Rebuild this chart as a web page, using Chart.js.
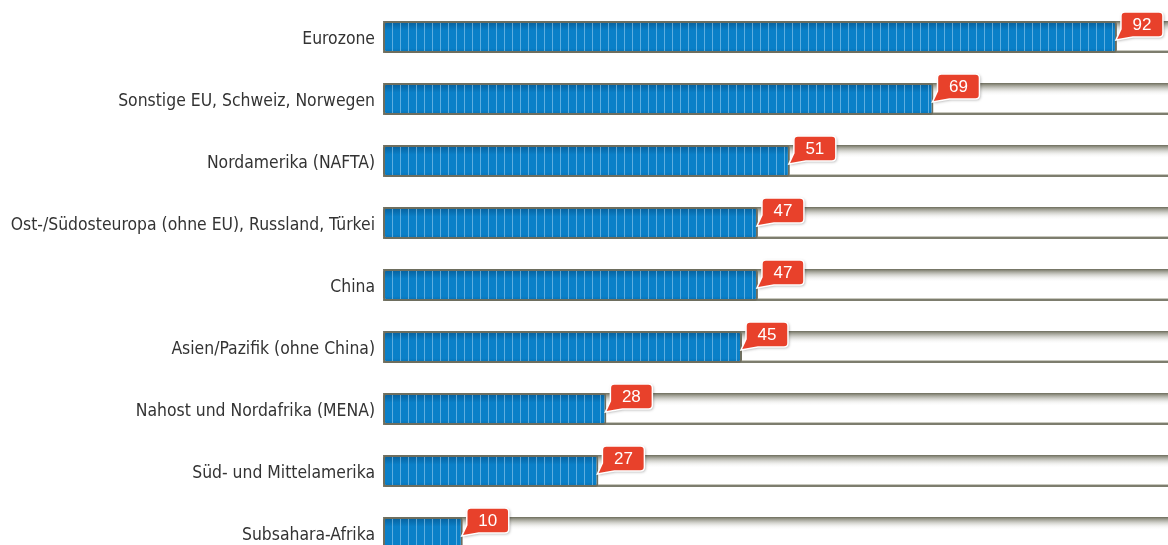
<!DOCTYPE html>
<html>
<head>
<meta charset="utf-8">
<script src="https://cdn.jsdelivr.net/npm/chart.js@4"></script>
<style>
  html, body { margin: 0; padding: 0; background: #fff; overflow: hidden; }
  #wrap { width: 1168px; height: 570px; position: relative; }
</style>
</head>
<body>
<div id="wrap"><canvas id="myChart"></canvas></div>
<script>
const categories = [
  'Eurozone',
  'Sonstige EU, Schweiz, Norwegen',
  'Nordamerika (NAFTA)',
  'Ost-/Südosteuropa (ohne EU), Russland, Türkei',
  'China',
  'Asien/Pazifik (ohne China)',
  'Nahost und Nordafrika (MENA)',
  'Süd- und Mittelamerika',
  'Subsahara-Afrika'
];
const values = [92, 69, 51, 47, 47, 45, 28, 27, 10];
const axisMax = 98.4;

// grey track behind each bar
const trackPlugin = {
  id: 'track',
  beforeDatasetsDraw(chart) {
    const ctx = chart.ctx;
    const area = chart.chartArea;
    ctx.save();
    chart.getDatasetMeta(0).data.forEach(bar => {
      const top = bar.y - bar.height / 2;
      const bottom = bar.y + bar.height / 2;
      const left = bar.base;
      const w = area.right - left + 10;
      const g = ctx.createLinearGradient(0, top, 0, top + 13);
      g.addColorStop(0, '#6c6c5c');
      g.addColorStop(0.12, '#8e8e80');
      g.addColorStop(1, 'rgba(255,255,255,0)');
      ctx.fillStyle = g;
      ctx.fillRect(left, top, w, 13);
      ctx.fillStyle = '#c9c9bf';
      ctx.fillRect(left, bottom - 3, w, 1);
      ctx.fillStyle = '#7d7d6e';
      ctx.fillRect(left, bottom - 2, w, 2);
    });
    ctx.restore();
  }
};

// stripes + shading on blue bars, then red value callouts
const decoPlugin = {
  id: 'deco',
  afterDatasetsDraw(chart) {
    const ctx = chart.ctx;
    ctx.save();
    chart.getDatasetMeta(0).data.forEach((bar, i) => {
      const top = bar.y - bar.height / 2;
      const bottom = bar.y + bar.height / 2;
      const l = bar.base + 2, r = bar.x - 2;
      ctx.save();
      ctx.beginPath();
      ctx.rect(l, top + 2, r - l, bottom - top - 4);
      ctx.clip();
      const g = ctx.createLinearGradient(0, top, 0, bottom);
      g.addColorStop(0, 'rgba(0,40,80,0.4)');
      g.addColorStop(0.3, 'rgba(0,40,80,0)');
      g.addColorStop(0.85, 'rgba(0,40,80,0)');
      g.addColorStop(1, 'rgba(0,40,80,0.2)');
      ctx.fillStyle = g;
      ctx.fillRect(l, top, r - l, bottom - top);
      ctx.fillStyle = 'rgba(150,205,240,0.6)';
      for (let x = l + 7; x < r; x += 8) {
        ctx.fillRect(Math.round(x), top + 2, 1, bottom - top - 4);
      }
      ctx.restore();

      // callout
      const txt = String(values[i]);
      ctx.font = '17px "Liberation Sans", Arial, sans-serif';
      const bw = Math.max(42, ctx.measureText(txt).width + 22);
      const bx = bar.x + 4, by = top - 9, bh = 25, rad = 4;
      const tipX = bar.x - 1, tipY = top + 19;
      ctx.beginPath();
      ctx.moveTo(bx + rad, by);
      ctx.lineTo(bx + bw - rad, by);
      ctx.quadraticCurveTo(bx + bw, by, bx + bw, by + rad);
      ctx.lineTo(bx + bw, by + bh - rad);
      ctx.quadraticCurveTo(bx + bw, by + bh, bx + bw - rad, by + bh);
      ctx.lineTo(bx + 12, by + bh);
      ctx.lineTo(tipX, tipY);
      ctx.lineTo(bx, by + bh - 8);
      ctx.lineTo(bx, by + rad);
      ctx.quadraticCurveTo(bx, by, bx + rad, by);
      ctx.closePath();
      ctx.shadowColor = 'rgba(0,0,0,0.35)';
      ctx.shadowBlur = 3;
      ctx.shadowOffsetX = 1;
      ctx.shadowOffsetY = 1;
      ctx.fillStyle = '#e8412b';
      ctx.fill();
      ctx.shadowColor = 'transparent';
      ctx.lineWidth = 1.5;
      ctx.strokeStyle = '#ffffff';
      ctx.stroke();
      ctx.fillStyle = '#ffffff';
      ctx.textAlign = 'center';
      ctx.textBaseline = 'middle';
      ctx.fillText(txt, bx + bw / 2, by + bh / 2 + 1);
    });
    ctx.restore();
  }
};

const ctx = document.getElementById('myChart').getContext('2d');
const myChart = new Chart(ctx, {
  type: 'bar',
  data: {
    labels: categories,
    datasets: [{
      data: values,
      backgroundColor: '#0a80c8',
      borderColor: '#6e6e5e',
      borderWidth: 2,
      borderRadius: 3,
      borderSkipped: false,
      barPercentage: 0.516,
      categoryPercentage: 1
    }]
  },
  options: {
    indexAxis: 'y',
    responsive: true,
    maintainAspectRatio: false,
    animation: false,
    layout: { padding: { top: 6, bottom: 6, left: 0, right: 0 } },
    plugins: { legend: { display: false }, tooltip: { enabled: false } },
    scales: {
      x: { min: 0, max: axisMax, display: false },
      y: {
        offset: true,
        grid: { display: false },
        border: { display: false },
        ticks: {
          color: '#333333',
          padding: 0,
          labelOffset: 2,
          font: { family: '"DejaVu Sans Condensed", sans-serif', size: 17.4 }
        },
        afterFit(scale) {
          scale.width = 383;
          scale.paddingTop = 0;
          scale.paddingBottom = 0;
        }
      }
    }
  },
  plugins: [trackPlugin, decoPlugin]
});
</script>
</body>
</html>
